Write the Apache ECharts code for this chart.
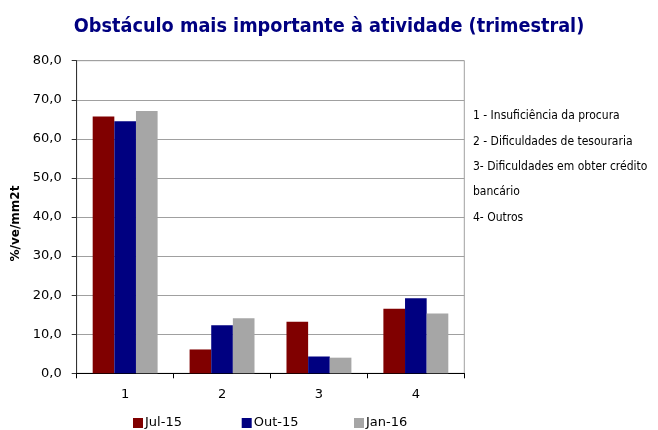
<!DOCTYPE html>
<html><head><meta charset="utf-8">
<script src="https://cdn.jsdelivr.net/npm/echarts@6/dist/echarts.min.js"></script>
<style>html,body{margin:0;padding:0;background:#fff}#c{width:658px;height:430px}</style>
</head><body><div id="c"></div>
<script>
const categories = ['1', '2', '3', '4'];
const seriesNames = ['Jul-15', 'Out-15', 'Jan-16'];
const jul15 = [65.7, 6.1, 13.2, 16.5];
const out15 = [64.5, 12.3, 4.3, 19.2];
const jan16 = [67.1, 14.1, 4.0, 15.3];
const yTicks = { min: 0, max: 80, interval: 10 };
const noteLines = ['1 - Insuficiência da procura', '2 - Dificuldades de tesouraria', '3- Dificuldades em obter crédito', 'bancário', '4- Outros'];
const colors = ['#800000', '#000080', '#a6a6a6'];
const legendLefts = [133, 241.7, 354];

const chart = echarts.init(document.getElementById('c'), null, { renderer: 'canvas' });
const noteFont = '"DejaVu Sans Condensed", sans-serif';
const baseFont = '"DejaVu Sans", sans-serif';
chart.setOption({
  animation: false,
  color: colors,
  title: {
    text: 'Obstáculo mais importante à atividade (trimestral)',
    left: 'center', top: 12,
    textStyle: { fontFamily: '"DejaVu Sans Condensed", "DejaVu Sans", sans-serif', fontWeight: 'bold', fontSize: 19.7, color: '#000080' }
  },
  grid: { left: 76.7, right: 193.7, top: 60.7, bottom: 56.7, show: true, borderColor: '#a0a0a0', borderWidth: 1, containLabel: false },
  legend: seriesNames.map((n, i) => ({
    top: 416.5, left: legendLefts[i], padding: 0, itemWidth: 10, itemHeight: 10,
    icon: 'rect',
    textStyle: { fontFamily: baseFont, fontSize: 13, color: '#000', padding: [0, 0, 0, -3] },
    data: [n]
  })),
  xAxis: {
    type: 'category', data: categories,
    axisLine: { lineStyle: { color: '#000', width: 1 } },
    axisTick: { show: true, interval: 0, length: 5, lineStyle: { color: '#000' } },
    axisLabel: { fontFamily: baseFont, fontSize: 13, color: '#000', margin: 15 }
  },
  yAxis: {
    type: 'value', min: yTicks.min, max: yTicks.max, interval: yTicks.interval,
    axisLine: { show: true, lineStyle: { color: '#333', width: 1 } },
    axisTick: { show: true, length: 5, inside: false, lineStyle: { color: '#333' } },
    axisLabel: { fontFamily: baseFont, fontSize: 13, color: '#000', margin: 15, formatter: v => v.toFixed(1).replace('.', ',') },
    splitLine: { show: true, lineStyle: { color: '#a0a0a0', width: 1 } }
  },
  series: [
    { name: seriesNames[0], type: 'bar', data: jul15, barGap: '0%', barCategoryGap: '33%' },
    { name: seriesNames[1], type: 'bar', data: out15, barGap: '0%', barCategoryGap: '33%' },
    { name: seriesNames[2], type: 'bar', data: jan16, barGap: '0%', barCategoryGap: '33%' }
  ],
  graphic: noteLines.map((t, i) => ({
    type: 'text', left: 473, top: 115.7 + i * 25.3 - 5.5,
    style: { text: t, fill: '#000', font: '12px ' + noteFont }
  })).concat([{
    type: 'text', x: 16, y: 223.5, rotation: Math.PI / 2,
    style: { text: '%/ve/mm2t', fill: '#000', font: 'bold 12px ' + baseFont, align: 'center', verticalAlign: 'middle' }
  }])
});
</script></body></html>
